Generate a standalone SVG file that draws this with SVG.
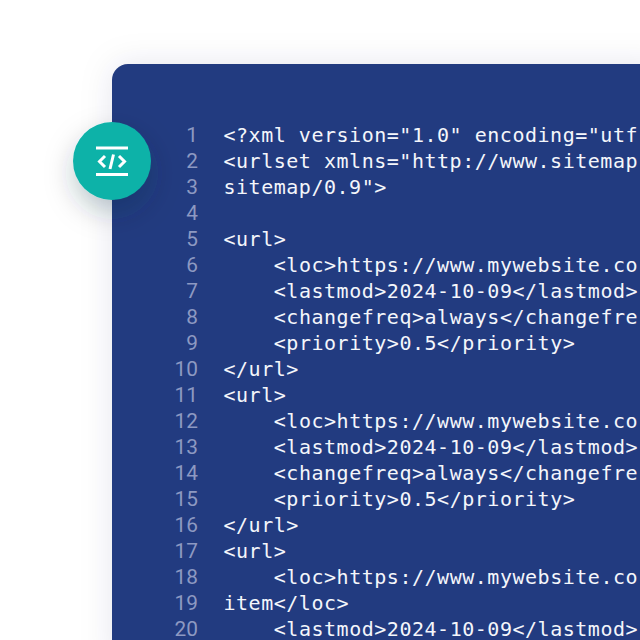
<svg xmlns="http://www.w3.org/2000/svg" width="640" height="640" viewBox="0 0 640 640">
<style>
.c{font-family:"DejaVu Sans Mono","Liberation Mono",monospace;font-size:20px;letter-spacing:.52px;fill:#f4f6fb}
.n{font-family:Roboto,"Liberation Sans",sans-serif;font-size:20.8px;fill:#8d99c2;text-anchor:end}
</style>
<defs>
<filter id="s1" x="-30%" y="-30%" width="160%" height="160%"><feDropShadow dx="0" dy="0" stdDeviation="16" flood-color="#244060" flood-opacity=".10"/></filter>
<filter id="s2" x="-60%" y="-60%" width="220%" height="220%"><feDropShadow dx="0" dy="12" stdDeviation="14" flood-color="#0a3040" flood-opacity=".26"/></filter>
</defs>
<rect width="640" height="640" fill="#fff"/>
<g id="card"><path d="M128 64H660V660H112V80A16 16 0 0 1 128 64Z" fill="#243b80" filter="url(#s1)"/></g>
<g id="badge">
<circle cx="112" cy="161" r="39" fill="#0cb2a8" filter="url(#s2)"/>
<g stroke="#fff" stroke-width="3" fill="none">
<path d="M96 148H128M96 174.500H128"/>
<path d="M105 156L99.500 161.500L105 167M119 156L124.500 161.500L119 167M113.500 154.500L110 169"/>
</g>
</g>
<g id="numbers">
<text class="n" x="198" y="142">1</text><text class="n" x="198" y="168">2</text><text class="n" x="198" y="194">3</text><text class="n" x="198" y="220">4</text><text class="n" x="198" y="246">5</text><text class="n" x="198" y="272">6</text><text class="n" x="198" y="298">7</text><text class="n" x="198" y="324">8</text><text class="n" x="198" y="350">9</text><text class="n" x="198" y="376">10</text><text class="n" x="198" y="402">11</text><text class="n" x="198" y="428">12</text><text class="n" x="198" y="454">13</text><text class="n" x="198" y="480">14</text><text class="n" x="198" y="506">15</text><text class="n" x="198" y="532">16</text><text class="n" x="198" y="558">17</text><text class="n" x="198" y="584">18</text><text class="n" x="198" y="610">19</text><text class="n" x="198" y="636">20</text>
</g>
<g id="code">
<text class="c" x="223.500" y="142">&lt;?xml version="1.0" encoding="utf</text>
<text class="c" x="223.500" y="168">&lt;urlset xmlns="http://www.sitemap</text>
<text class="c" x="223.500" y="194">sitemap/0.9"&gt;</text>
<text class="c" x="223.500" y="246">&lt;url&gt;</text>
<text class="c" x="273.800" y="272">&lt;loc&gt;https://www.mywebsite.co</text>
<text class="c" x="273.800" y="298">&lt;lastmod&gt;2024-10-09&lt;/lastmod&gt;</text>
<text class="c" x="273.800" y="324">&lt;changefreq&gt;always&lt;/changefre</text>
<text class="c" x="273.800" y="350">&lt;priority&gt;0.5&lt;/priority&gt;</text>
<text class="c" x="223.500" y="376">&lt;/url&gt;</text>
<text class="c" x="223.500" y="402">&lt;url&gt;</text>
<text class="c" x="273.800" y="428">&lt;loc&gt;https://www.mywebsite.co</text>
<text class="c" x="273.800" y="454">&lt;lastmod&gt;2024-10-09&lt;/lastmod&gt;</text>
<text class="c" x="273.800" y="480">&lt;changefreq&gt;always&lt;/changefre</text>
<text class="c" x="273.800" y="506">&lt;priority&gt;0.5&lt;/priority&gt;</text>
<text class="c" x="223.500" y="532">&lt;/url&gt;</text>
<text class="c" x="223.500" y="558">&lt;url&gt;</text>
<text class="c" x="273.800" y="584">&lt;loc&gt;https://www.mywebsite.co</text>
<text class="c" x="223.500" y="610">item&lt;/loc&gt;</text>
<text class="c" x="273.800" y="636">&lt;lastmod&gt;2024-10-09&lt;/lastmod&gt;</text>
</g>
</svg>
